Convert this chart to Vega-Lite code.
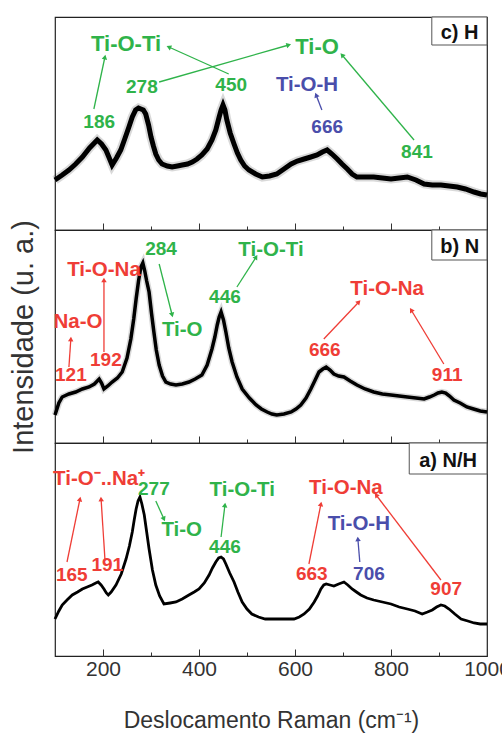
{
"$schema":"https://vega.github.io/schema/vega-lite/v6.json",
"padding":{"left":8,"top":15,"right":-7,"bottom":2},
"spacing":0,
"bounds":"flush",
"config":{"view":{"stroke":"#222","strokeWidth":1.2},"font":"Liberation Sans",
"axis":{"grid":false,"domain":false,"tickColor":"#333","tickWidth":1,"labelColor":"#333","titleColor":"#333","labelFont":"Liberation Sans","titleFont":"Liberation Sans","minExtent":0}},
"datasets":{
"specC":[{"raman":100,"int":50},{"raman":115,"int":55},{"raman":129,"int":60},{"raman":143,"int":66},{"raman":157,"int":73},{"raman":172,"int":82},{"raman":188,"int":90},{"raman":197,"int":86},{"raman":206,"int":80},{"raman":213,"int":72},{"raman":219,"int":65},{"raman":228,"int":72},{"raman":237,"int":80},{"raman":246,"int":92},{"raman":254,"int":103},{"raman":261,"int":113},{"raman":268,"int":120},{"raman":274,"int":122},{"raman":279,"int":121},{"raman":284,"int":120},{"raman":289,"int":116},{"raman":295,"int":105},{"raman":300,"int":93},{"raman":305,"int":84},{"raman":310,"int":76},{"raman":316,"int":70},{"raman":323,"int":66},{"raman":334,"int":64},{"raman":344,"int":63},{"raman":355,"int":64},{"raman":365,"int":65},{"raman":376,"int":66},{"raman":386,"int":68},{"raman":396,"int":71},{"raman":406,"int":75},{"raman":417,"int":81},{"raman":427,"int":90},{"raman":435,"int":100},{"raman":442,"int":113},{"raman":446,"int":120},{"raman":450,"int":125},{"raman":454,"int":120},{"raman":458,"int":110},{"raman":465,"int":97},{"raman":473,"int":86},{"raman":480,"int":77},{"raman":487,"int":70},{"raman":495,"int":64},{"raman":504,"int":60},{"raman":518,"int":56},{"raman":532,"int":53},{"raman":547,"int":54},{"raman":562,"int":56},{"raman":577,"int":61},{"raman":592,"int":66},{"raman":605,"int":69},{"raman":619,"int":71},{"raman":633,"int":73},{"raman":646,"int":75},{"raman":657,"int":78},{"raman":667,"int":80},{"raman":677,"int":76},{"raman":688,"int":71},{"raman":698,"int":66},{"raman":709,"int":61},{"raman":719,"int":56},{"raman":729,"int":53},{"raman":746,"int":53},{"raman":764,"int":53},{"raman":782,"int":52},{"raman":800,"int":51},{"raman":817,"int":52},{"raman":834,"int":53},{"raman":852,"int":50},{"raman":869,"int":46},{"raman":886,"int":45},{"raman":904,"int":45},{"raman":921,"int":44},{"raman":938,"int":43},{"raman":955,"int":41},{"raman":973,"int":38},{"raman":987,"int":36},{"raman":1000,"int":35}],
"specB":[{"raman":100,"int":28},{"raman":108,"int":40},{"raman":115,"int":46},{"raman":129,"int":49},{"raman":143,"int":51},{"raman":157,"int":54},{"raman":171,"int":56},{"raman":182,"int":59},{"raman":192,"int":64},{"raman":197,"int":60},{"raman":202,"int":54},{"raman":210,"int":57},{"raman":219,"int":61},{"raman":230,"int":65},{"raman":240,"int":71},{"raman":250,"int":85},{"raman":258,"int":104},{"raman":264,"int":124},{"raman":269,"int":144},{"raman":274,"int":162},{"raman":279,"int":176},{"raman":283,"int":180},{"raman":287,"int":172},{"raman":291,"int":162},{"raman":296,"int":151},{"raman":301,"int":130},{"raman":306,"int":111},{"raman":311,"int":93},{"raman":317,"int":78},{"raman":324,"int":67},{"raman":331,"int":61},{"raman":341,"int":59},{"raman":352,"int":58},{"raman":365,"int":59},{"raman":379,"int":61},{"raman":392,"int":64},{"raman":406,"int":68},{"raman":417,"int":78},{"raman":427,"int":94},{"raman":433,"int":106},{"raman":438,"int":118},{"raman":442,"int":126},{"raman":446,"int":131},{"raman":451,"int":123},{"raman":456,"int":111},{"raman":462,"int":95},{"raman":469,"int":81},{"raman":479,"int":66},{"raman":490,"int":54},{"raman":505,"int":45},{"raman":519,"int":38},{"raman":530,"int":34},{"raman":542,"int":31},{"raman":552,"int":29},{"raman":562,"int":28},{"raman":577,"int":29},{"raman":592,"int":31},{"raman":602,"int":34},{"raman":612,"int":38},{"raman":623,"int":45},{"raman":633,"int":54},{"raman":642,"int":63},{"raman":650,"int":71},{"raman":658,"int":74},{"raman":665,"int":76},{"raman":673,"int":73},{"raman":681,"int":69},{"raman":691,"int":67},{"raman":702,"int":66},{"raman":715,"int":62},{"raman":729,"int":58},{"raman":746,"int":54},{"raman":764,"int":51},{"raman":782,"int":49},{"raman":800,"int":48},{"raman":817,"int":47},{"raman":834,"int":46},{"raman":852,"int":45},{"raman":869,"int":44},{"raman":880,"int":46},{"raman":890,"int":48},{"raman":898,"int":50},{"raman":906,"int":51},{"raman":914,"int":50},{"raman":922,"int":47},{"raman":931,"int":43},{"raman":944,"int":40},{"raman":958,"int":36},{"raman":972,"int":34},{"raman":986,"int":32},{"raman":1000,"int":31}],
"specA":[{"raman":100,"int":37},{"raman":108,"int":45},{"raman":115,"int":51},{"raman":125,"int":56},{"raman":136,"int":61},{"raman":147,"int":64},{"raman":157,"int":67},{"raman":167,"int":69},{"raman":177,"int":71},{"raman":185,"int":73},{"raman":190,"int":74},{"raman":196,"int":71},{"raman":202,"int":67},{"raman":207,"int":63},{"raman":211,"int":61},{"raman":217,"int":64},{"raman":227,"int":71},{"raman":238,"int":82},{"raman":248,"int":97},{"raman":255,"int":110},{"raman":261,"int":124},{"raman":265,"int":136},{"raman":269,"int":147},{"raman":273,"int":155},{"raman":277,"int":159},{"raman":281,"int":152},{"raman":286,"int":141},{"raman":291,"int":124},{"raman":296,"int":107},{"raman":303,"int":86},{"raman":310,"int":71},{"raman":318,"int":60},{"raman":327,"int":52},{"raman":340,"int":53},{"raman":352,"int":54},{"raman":365,"int":57},{"raman":379,"int":61},{"raman":390,"int":64},{"raman":400,"int":67},{"raman":411,"int":73},{"raman":421,"int":81},{"raman":428,"int":88},{"raman":435,"int":94},{"raman":441,"int":98},{"raman":446,"int":99},{"raman":451,"int":97},{"raman":456,"int":92},{"raman":464,"int":83},{"raman":473,"int":74},{"raman":481,"int":64},{"raman":490,"int":54},{"raman":500,"int":47},{"raman":510,"int":42},{"raman":524,"int":39},{"raman":538,"int":37},{"raman":555,"int":37},{"raman":571,"int":37},{"raman":585,"int":37},{"raman":598,"int":37},{"raman":609,"int":39},{"raman":619,"int":42},{"raman":630,"int":47},{"raman":640,"int":54},{"raman":647,"int":60},{"raman":654,"int":67},{"raman":660,"int":71},{"raman":665,"int":72},{"raman":673,"int":71},{"raman":681,"int":70},{"raman":691,"int":72},{"raman":702,"int":74},{"raman":710,"int":71},{"raman":719,"int":67},{"raman":728,"int":64},{"raman":737,"int":61},{"raman":750,"int":58},{"raman":764,"int":56},{"raman":782,"int":54},{"raman":800,"int":52},{"raman":817,"int":49},{"raman":834,"int":47},{"raman":850,"int":45},{"raman":865,"int":42},{"raman":876,"int":44},{"raman":886,"int":46},{"raman":895,"int":49},{"raman":904,"int":51},{"raman":912,"int":50},{"raman":921,"int":47},{"raman":933,"int":42},{"raman":946,"int":37},{"raman":960,"int":35},{"raman":973,"int":33},{"raman":986,"int":32},{"raman":1000,"int":32}],
"annC":[{"raman":248,"int":186,"rotulo":"Ti-O-Ti","grupo":"TiO","papel":"principal"},{"raman":646,"int":183,"rotulo":"Ti-O","grupo":"TiO","papel":"principal"},{"raman":281,"int":143,"rotulo":"278","grupo":"TiO","papel":"pico"},{"raman":467,"int":145,"rotulo":"450","grupo":"TiO","papel":"pico"},{"raman":192,"int":108,"rotulo":"186","grupo":"TiO","papel":"pico"},{"raman":625,"int":145,"rotulo":"Ti-O-H","grupo":"OH","papel":"ligacao"},{"raman":667,"int":103,"rotulo":"666","grupo":"OH","papel":"pico"},{"raman":854,"int":78,"rotulo":"841","grupo":"TiO","papel":"pico"}],
"arrC":[{"raman":181,"int":121,"raman2":204,"int2":173,"grupo":"TiO","angulo":12},{"raman":462,"int":156,"raman2":337,"int2":183,"grupo":"TiO","angulo":294},{"raman":317,"int":148,"raman2":587,"int2":185,"grupo":"TiO","angulo":74},{"raman":848,"int":90,"raman2":698,"int2":175,"grupo":"TiO","angulo":320},{"raman":656,"int":120,"raman2":644,"int2":135,"grupo":"OH","angulo":338}],
"annB":[{"raman":321,"int":194,"rotulo":"284","grupo":"TiO","papel":"pico"},{"raman":202,"int":173,"rotulo":"Ti-O-Na","grupo":"Na","papel":"ligacao"},{"raman":550,"int":193,"rotulo":"Ti-O-Ti","grupo":"TiO","papel":"ligacao"},{"raman":148,"int":121,"rotulo":"Na-O","grupo":"Na","papel":"ligacao"},{"raman":365,"int":113,"rotulo":"Ti-O","grupo":"TiO","papel":"ligacao"},{"raman":454,"int":146,"rotulo":"446","grupo":"TiO","papel":"pico"},{"raman":792,"int":154,"rotulo":"Ti-O-Na","grupo":"Na","papel":"ligacao"},{"raman":206,"int":83,"rotulo":"192","grupo":"Na","papel":"pico"},{"raman":133,"int":68,"rotulo":"121","grupo":"Na","papel":"pico"},{"raman":662,"int":93,"rotulo":"666","grupo":"Na","papel":"pico"},{"raman":917,"int":68,"rotulo":"911","grupo":"Na","papel":"pico"}],
"arrB":[{"raman":129,"int":76,"raman2":133,"int2":104,"grupo":"Na","angulo":4},{"raman":202,"int":91,"raman2":202,"int2":163,"grupo":"Na","angulo":0},{"raman":317,"int":179,"raman2":344,"int2":128,"grupo":"TiO","angulo":166},{"raman":479,"int":156,"raman2":519,"int2":186,"grupo":"TiO","angulo":32},{"raman":660,"int":104,"raman2":733,"int2":141,"grupo":"Na","angulo":43},{"raman":910,"int":79,"raman2":842,"int2":133,"grupo":"Na","angulo":329}],
"annA":[{"raman":192,"int":177,"rotulo":"Ti-O⁻..Na⁺","grupo":"Na","papel":"ligacao"},{"raman":306,"int":167,"rotulo":"277","grupo":"TiO","papel":"pico"},{"raman":364,"int":126,"rotulo":"Ti-O","grupo":"TiO","papel":"ligacao"},{"raman":490,"int":166,"rotulo":"Ti-O-Ti","grupo":"TiO","papel":"ligacao"},{"raman":454,"int":109,"rotulo":"446","grupo":"TiO","papel":"pico"},{"raman":706,"int":168,"rotulo":"Ti-O-Na","grupo":"Na","papel":"ligacao"},{"raman":733,"int":132,"rotulo":"Ti-O-H","grupo":"OH","papel":"ligacao"},{"raman":135,"int":81,"rotulo":"165","grupo":"Na","papel":"pico"},{"raman":209,"int":91,"rotulo":"191","grupo":"Na","papel":"pico"},{"raman":635,"int":82,"rotulo":"663","grupo":"Na","papel":"pico"},{"raman":754,"int":82,"rotulo":"706","grupo":"OH","papel":"pico"},{"raman":915,"int":67,"rotulo":"907","grupo":"Na","papel":"pico"}],
"arrA":[{"raman":125,"int":94,"raman2":152,"int2":157,"grupo":"Na","angulo":12},{"raman":204,"int":97,"raman2":196,"int2":157,"grupo":"Na","angulo":356},{"raman":310,"int":155,"raman2":327,"int2":137,"grupo":"TiO","angulo":156},{"raman":446,"int":119,"raman2":454,"int2":151,"grupo":"TiO","angulo":7},{"raman":629,"int":92,"raman2":654,"int2":152,"grupo":"Na","angulo":11},{"raman":735,"int":94,"raman2":731,"int2":117,"grupo":"OH","angulo":355},{"raman":904,"int":76,"raman2":769,"int2":161,"grupo":"Na","angulo":323}],
"tagC":[{"raman":885,"raman2":1000,"int":185,"int2":213,"rotulo":"c) H","tx":943,"ty":197}],
"tagB":[{"raman":885,"raman2":1000,"int":183,"int2":213,"rotulo":"b) N","tx":943,"ty":196}],
"tagA":[{"raman":838,"raman2":1000,"int":182,"int2":213,"rotulo":"a) N/H","tx":919,"ty":195}]
},
"vconcat":[
{"width":432,"height":213,"resolve":{"axis":{"x":"independent"}},
"layer":[
{"data":{"name":"specC"},"mark":{"type":"line","color":"#000","strokeWidth":9,"opacity":0.15},
"encoding":{"x":{"field":"raman","type":"quantitative","scale":{"domain":[100,1000],"nice":false,"zero":false},"axis":{"orient":"bottom","values":[200,400,600,800,1000],"tickSize":-7,"labels":false,"title":null,"maxExtent":0,"offset":0}},
"y":{"field":"int","type":"quantitative","scale":{"domain":[0,213],"nice":false,"zero":false},"axis":null}}},
{"data":{"name":"specC"},"mark":{"type":"line","color":"#000","strokeWidth":5},
"encoding":{"x":{"field":"raman","type":"quantitative","axis":null},"y":{"field":"int","type":"quantitative","axis":null}}},
{"data":{"name":"arrC"},"mark":{"type":"rule","strokeWidth":1.3},
"encoding":{"x":{"field":"raman","type":"quantitative","axis":null},"y":{"field":"int","type":"quantitative","axis":null},"x2":{"field":"raman2"},"y2":{"field":"int2"},
"color":{"field":"grupo","type":"nominal","scale":{"domain":["TiO","Na","OH"],"range":["#2fb34a","#ef3d36","#4a4eab"]},"legend":null}}},
{"data":{"name":"arrC"},"mark":{"type":"point","shape":"triangle-up","filled":true,"size":30,"opacity":1},
"encoding":{"x":{"field":"raman2","type":"quantitative","axis":null},"y":{"field":"int2","type":"quantitative","axis":null},"angle":{"field":"angulo","type":"quantitative","scale":null},
"color":{"field":"grupo","type":"nominal","legend":null}}},
{"data":{"name":"annC"},"mark":{"type":"text","fontWeight":"bold","baseline":"middle","align":"center"},
"encoding":{"x":{"field":"raman","type":"quantitative","axis":null},"y":{"field":"int","type":"quantitative","axis":null},"text":{"field":"rotulo"},
"color":{"field":"grupo","type":"nominal","legend":null},
"size":{"field":"papel","type":"ordinal","scale":{"domain":["principal","ligacao","pico"],"range":[22,19,18]},"legend":null}}},
{"data":{"name":"tagC"},"mark":{"type":"rect","fill":"#fff","stroke":"#555","strokeWidth":1},
"encoding":{"x":{"field":"raman","type":"quantitative","axis":{"orient":"bottom","values":[300,500,700,900],"tickSize":-4,"labels":false,"title":null,"maxExtent":0,"offset":0}},"x2":{"field":"raman2"},"y":{"field":"int","type":"quantitative","axis":null},"y2":{"field":"int2"}}},
{"data":{"name":"tagC"},"mark":{"type":"text","fontWeight":"bold","fontSize":20,"color":"#111","baseline":"middle","align":"center"},
"encoding":{"x":{"field":"tx","type":"quantitative","axis":null},"y":{"field":"ty","type":"quantitative","axis":null},"text":{"field":"rotulo"}}}
]},
{"width":432,"height":213,"resolve":{"axis":{"x":"independent"}},
"layer":[
{"data":{"name":"specB"},"mark":{"type":"line","color":"#000","strokeWidth":6.5,"opacity":0.15},
"encoding":{"x":{"field":"raman","type":"quantitative","scale":{"domain":[100,1000],"nice":false,"zero":false},"axis":{"orient":"bottom","values":[200,400,600,800,1000],"tickSize":-7,"labels":false,"title":null,"maxExtent":0,"offset":0}},
"y":{"field":"int","type":"quantitative","scale":{"domain":[0,213],"nice":false,"zero":false},"axis":{"orient":"left","title":"Intensidade (u. a.)","titleFontSize":29,"titleFontWeight":"normal","titlePadding":17,"labels":false,"ticks":false,"domain":false,"minExtent":0}}}},
{"data":{"name":"specB"},"mark":{"type":"line","color":"#000","strokeWidth":3.5},
"encoding":{"x":{"field":"raman","type":"quantitative","axis":null},"y":{"field":"int","type":"quantitative"}}},
{"data":{"name":"arrB"},"mark":{"type":"rule","strokeWidth":1.3},
"encoding":{"x":{"field":"raman","type":"quantitative","axis":null},"y":{"field":"int","type":"quantitative"},"x2":{"field":"raman2"},"y2":{"field":"int2"},
"color":{"field":"grupo","type":"nominal","scale":{"domain":["TiO","Na","OH"],"range":["#2fb34a","#ef3d36","#4a4eab"]},"legend":null}}},
{"data":{"name":"arrB"},"mark":{"type":"point","shape":"triangle-up","filled":true,"size":30,"opacity":1},
"encoding":{"x":{"field":"raman2","type":"quantitative","axis":null},"y":{"field":"int2","type":"quantitative"},"angle":{"field":"angulo","type":"quantitative","scale":null},
"color":{"field":"grupo","type":"nominal","legend":null}}},
{"data":{"name":"annB"},"mark":{"type":"text","fontWeight":"bold","baseline":"middle","align":"center"},
"encoding":{"x":{"field":"raman","type":"quantitative","axis":null},"y":{"field":"int","type":"quantitative"},"text":{"field":"rotulo"},
"color":{"field":"grupo","type":"nominal","legend":null},
"size":{"field":"papel","type":"ordinal","scale":{"domain":["principal","ligacao","pico"],"range":[22,19,18]},"legend":null}}},
{"data":{"name":"tagB"},"mark":{"type":"rect","fill":"#fff","stroke":"#555","strokeWidth":1},
"encoding":{"x":{"field":"raman","type":"quantitative","axis":{"orient":"bottom","values":[300,500,700,900],"tickSize":-4,"labels":false,"title":null,"maxExtent":0,"offset":0}},"x2":{"field":"raman2"},"y":{"field":"int","type":"quantitative"},"y2":{"field":"int2"}}},
{"data":{"name":"tagB"},"mark":{"type":"text","fontWeight":"bold","fontSize":20,"color":"#111","baseline":"middle","align":"center"},
"encoding":{"x":{"field":"tx","type":"quantitative","axis":null},"y":{"field":"ty","type":"quantitative"},"text":{"field":"rotulo"}}}
]},
{"width":432,"height":213,"resolve":{"axis":{"x":"independent"}},
"layer":[
{"data":{"name":"specA"},"mark":{"type":"line","color":"#000","strokeWidth":2.8},
"encoding":{"x":{"field":"raman","type":"quantitative","scale":{"domain":[100,1000],"nice":false,"zero":false},"axis":{"orient":"bottom","values":[200,400,600,800,1000],"format":"d","tickSize":-7,"labelFontSize":21,"labelPadding":9,"labelFlush":false,"labelOverlap":false,"title":"Deslocamento Raman (cm⁻¹)","titleFontSize":23,"titleFontWeight":"normal","titlePadding":30,"offset":0}},
"y":{"field":"int","type":"quantitative","scale":{"domain":[0,213],"nice":false,"zero":false},"axis":null}}},
{"data":{"name":"arrA"},"mark":{"type":"rule","strokeWidth":1.3},
"encoding":{"x":{"field":"raman","type":"quantitative","axis":null},"y":{"field":"int","type":"quantitative","axis":null},"x2":{"field":"raman2"},"y2":{"field":"int2"},
"color":{"field":"grupo","type":"nominal","scale":{"domain":["TiO","Na","OH"],"range":["#2fb34a","#ef3d36","#4a4eab"]},"legend":null}}},
{"data":{"name":"arrA"},"mark":{"type":"point","shape":"triangle-up","filled":true,"size":30,"opacity":1},
"encoding":{"x":{"field":"raman2","type":"quantitative","axis":null},"y":{"field":"int2","type":"quantitative","axis":null},"angle":{"field":"angulo","type":"quantitative","scale":null},
"color":{"field":"grupo","type":"nominal","legend":null}}},
{"data":{"name":"annA"},"mark":{"type":"text","fontWeight":"bold","baseline":"middle","align":"center"},
"encoding":{"x":{"field":"raman","type":"quantitative","axis":null},"y":{"field":"int","type":"quantitative","axis":null},"text":{"field":"rotulo"},
"color":{"field":"grupo","type":"nominal","legend":null},
"size":{"field":"papel","type":"ordinal","scale":{"domain":["principal","ligacao","pico"],"range":[22,19,18]},"legend":null}}},
{"data":{"name":"tagA"},"mark":{"type":"rect","fill":"#fff","stroke":"#555","strokeWidth":1},
"encoding":{"x":{"field":"raman","type":"quantitative","axis":{"orient":"bottom","values":[300,500,700,900],"tickSize":-4,"labels":false,"title":null,"maxExtent":0,"offset":0}},"x2":{"field":"raman2"},"y":{"field":"int","type":"quantitative","axis":null},"y2":{"field":"int2"}}},
{"data":{"name":"tagA"},"mark":{"type":"text","fontWeight":"bold","fontSize":20,"color":"#111","baseline":"middle","align":"center"},
"encoding":{"x":{"field":"tx","type":"quantitative","axis":null},"y":{"field":"ty","type":"quantitative","axis":null},"text":{"field":"rotulo"}}}
]}
]
}
